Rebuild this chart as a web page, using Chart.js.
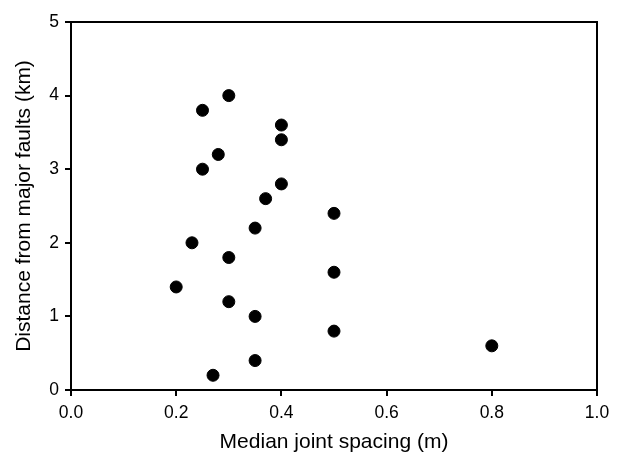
<!DOCTYPE html>
<html>
<head>
<meta charset="utf-8">
<script src="https://cdn.jsdelivr.net/npm/chart.js@4"></script>
<style>
  html, body { margin: 0; padding: 0; background: #fff; }
  #wrap { width: 624px; height: 457px; }
</style>
</head>
<body>
<div id="wrap"><canvas id="chart_spacing"></canvas></div>
<script>
// median joint spacing (m) vs distance from major faults (km)
const jointSpacing = [0.25, 0.30, 0.40, 0.40, 0.28, 0.25, 0.40, 0.37, 0.50, 0.35,
                      0.23, 0.30, 0.50, 0.20, 0.30, 0.35, 0.50, 0.80, 0.35, 0.27];
const faultDistance = [3.8, 4.0, 3.6, 3.4, 3.2, 3.0, 2.8, 2.6, 2.4, 2.2,
                       2.0, 1.8, 1.6, 1.4, 1.2, 1.0, 0.8, 0.6, 0.4, 0.2];
const xTitle = "Median joint spacing (m)";
const yTitle = "Distance from major faults (km)";

const points = jointSpacing.map(function (x, i) {
  return { x: x, y: faultDistance[i] };
});

const frame = {
  id: "frame",
  afterDraw: function (chart) {
    const a = chart.chartArea;
    const ctx = chart.ctx;
    ctx.save();
    ctx.strokeStyle = "#000";
    ctx.lineWidth = 2;
    ctx.strokeRect(a.left, a.top, a.right - a.left, a.bottom - a.top);
    ctx.restore();
  }
};

const family = "'Liberation Sans', Arial, sans-serif";
const tickFont = { family: family, size: 17.5 };
const titleFont = { family: family, size: 21 };

new Chart(document.getElementById("chart_spacing"), {
  type: "scatter",
  data: {
    datasets: [{
      data: points,
      backgroundColor: "#000",
      borderColor: "#000",
      pointRadius: 6,
      pointHoverRadius: 6,
    }],
  },
  options: {
    responsive: true,
    maintainAspectRatio: false,
    animation: false,
    layout: { padding: { top: 22, right: 27, left: 0, bottom: 0 } },
    plugins: { legend: false, tooltip: { enabled: false } },
    scales: {
      x: {
        min: 0,
        max: 1,
        afterFit: function (s) { s.height = 67; },
        grid: { drawOnChartArea: false, drawTicks: true, tickLength: 6, color: "#000", lineWidth: 2 },
        border: { color: "#000", width: 2 },
        ticks: {
          stepSize: 0.2,
          color: "#000",
          font: tickFont,
          padding: 7,
          callback: function (v) { return Number(v).toFixed(1); },
        },
        title: { display: true, text: xTitle, color: "#000", font: titleFont, padding: { top: 4, bottom: 2 } },
      },
      y: {
        min: 0,
        max: 5,
        afterFit: function (s) { s.width = 71; },
        grid: { drawOnChartArea: false, drawTicks: true, tickLength: 6, color: "#000", lineWidth: 2 },
        border: { color: "#000", width: 2 },
        ticks: { stepSize: 1, color: "#000", font: tickFont, padding: 6 },
        title: { display: true, text: yTitle, color: "#000", font: titleFont, padding: { top: 12, bottom: 4 } },
      },
    },
  },
  plugins: [frame],
});
</script>
</body>
</html>
